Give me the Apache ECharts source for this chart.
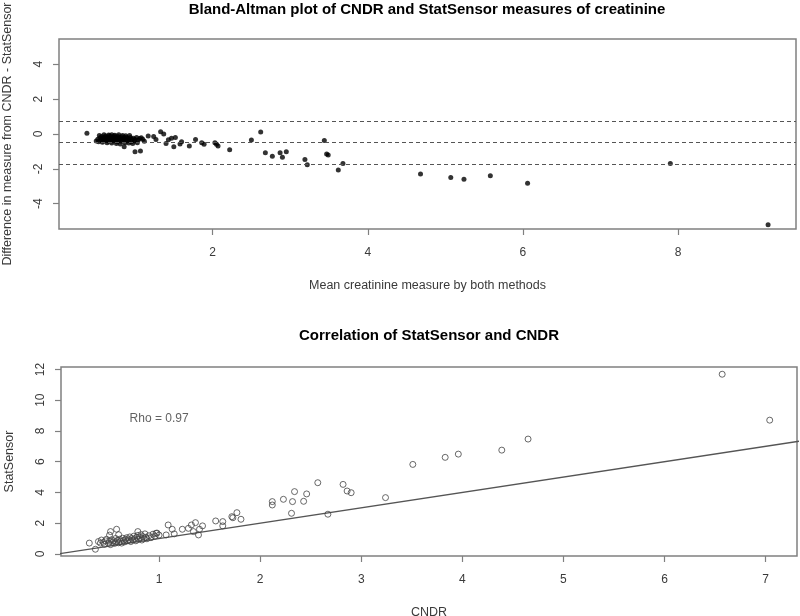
<!DOCTYPE html>
<html><head><meta charset="utf-8">
<script src="https://cdn.jsdelivr.net/npm/echarts@6/dist/echarts.min.js"></script>
<style>html,body{margin:0;padding:0;background:#fff}#c{width:800px;height:616px}</style>
</head><body><div id="c"></div>
<script>
// Bland-Altman: [mean of both methods, CNDR - StatSensor]
const baPoints = [
 [0.38,0.04],
 [0.50,-0.40],[0.52,-0.30],[0.53,-0.45],[0.55,-0.22],[0.56,-0.35],[0.57,-0.15],[0.58,-0.28],[0.59,-0.40],[0.60,-0.20],[0.61,-0.32],
 [0.62,-0.12],[0.62,-0.25],[0.63,-0.38],[0.64,-0.18],[0.65,-0.30],[0.66,-0.42],[0.67,-0.10],[0.67,-0.24],[0.68,-0.35],[0.69,-0.16],
 [0.70,-0.28],[0.71,-0.40],[0.72,-0.20],[0.72,-0.32],[0.73,-0.12],[0.74,-0.25],[0.75,-0.38],[0.75,-0.18],[0.76,-0.30],[0.77,-0.45],
 [0.78,-0.14],[0.78,-0.26],[0.79,-0.36],[0.80,-0.20],[0.81,-0.30],[0.82,-0.42],[0.83,-0.16],[0.84,-0.28],[0.85,-0.36],[0.86,-0.22],
 [0.87,-0.50],[0.88,-0.30],[0.89,-0.18],[0.90,-0.40],[0.91,-0.26],[0.92,-0.34],[0.94,-0.20],[0.95,-0.44],[0.96,-0.30],[0.98,-0.24],
 [0.99,-0.40],[1.00,-0.32],[1.02,-0.20],[1.04,-0.36],[1.06,-0.26],[1.08,-0.22],[1.10,-0.30],[1.12,-0.42],
 [0.54,-0.08],[0.60,-0.05],[0.66,-0.06],[0.70,-0.04],[0.74,-0.07],[0.79,-0.05],[0.84,-0.09],[0.64,-0.50],[0.70,-0.52],
 [0.76,-0.55],[0.81,-0.58],[0.92,-0.52],[0.97,-0.55],[1.03,-0.50],[0.58,-0.48],[0.88,-0.10],[0.93,-0.08],
 [0.86,-0.73],[1.00,-1.02],[1.07,-0.98],
 [1.17,-0.11],[1.24,-0.15],[1.27,-0.31],[1.33,0.13],[1.37,0.00],[1.40,-0.54],[1.43,-0.33],[1.47,-0.24],[1.50,-0.73],[1.52,-0.20],
 [1.58,-0.57],[1.60,-0.44],[1.70,-0.69],[1.78,-0.31],[1.86,-0.50],[1.89,-0.59],[2.03,-0.50],[2.05,-0.59],[2.07,-0.69],[2.22,-0.90],
 [2.50,-0.34],[2.62,0.11],[2.68,-1.07],[2.77,-1.28],[2.87,-1.07],[2.90,-1.34],[2.95,-1.02],[3.19,-1.47],[3.22,-1.76],[3.44,-0.38],
 [3.47,-1.15],[3.49,-1.20],[3.62,-2.07],[3.68,-1.69],[4.68,-2.30],[5.07,-2.49],[5.24,-2.59],[5.58,-2.40],[6.06,-2.83],[7.90,-1.69],
 [9.16,-5.21]
];
// mean difference and limits of agreement
const baLimits = [0.76, -0.50, -1.75];

// Correlation: [CNDR, StatSensor]
const corPoints = [
 [0.31,0.70],[0.37,0.30],
 [0.40,0.80],[0.42,0.70],[0.43,0.90],[0.45,0.75],[0.46,0.62],[0.47,0.85],[0.48,0.95],[0.50,0.70],[0.51,0.82],[0.52,0.60],
 [0.53,0.92],[0.54,0.75],[0.55,0.85],[0.56,0.68],[0.57,1.00],[0.58,0.78],[0.59,0.88],[0.60,0.72],[0.61,0.95],[0.62,0.82],
 [0.63,0.70],[0.64,1.02],[0.65,0.88],[0.66,0.78],[0.67,0.95],[0.68,1.05],[0.69,0.85],[0.70,0.92],[0.71,1.10],[0.72,0.80],
 [0.73,1.00],[0.74,0.90],[0.75,1.15],[0.76,0.98],[0.77,0.85],[0.78,1.08],[0.79,1.20],[0.80,0.95],[0.81,1.05],[0.82,1.25],
 [0.83,0.90],[0.84,1.12],[0.85,1.00],[0.86,1.30],[0.87,1.08],[0.88,0.98],[0.90,1.18],[0.92,1.05],[0.94,1.28],[0.96,1.15],
 [0.98,1.35],[1.00,1.22],
 [0.52,1.45],[0.58,1.60],[0.51,1.22],[0.60,1.25],[0.79,1.45],[0.97,1.34],
 [1.07,1.23],[1.09,1.88],[1.13,1.60],[1.15,1.30],[1.23,1.60],[1.29,1.66],[1.32,1.88],[1.34,1.45],[1.36,2.03],[1.39,1.23],
 [1.40,1.60],[1.43,1.82],[1.56,2.14],[1.63,2.10],[1.63,1.82],[1.72,2.42],[1.73,2.35],[1.77,2.68],[1.81,2.25],[2.12,3.40],
 [2.12,3.18],[2.23,3.55],[2.31,2.64],[2.32,3.40],[2.34,4.05],[2.43,3.42],[2.46,3.90],[2.57,4.63],[2.67,2.58],[2.82,4.52],
 [2.86,4.09],[2.90,3.98],[3.24,3.66],[3.51,5.82],[3.83,6.28],[3.96,6.49],[4.39,6.75],[4.65,7.47],[6.57,11.69],[7.04,8.70]
];
// identity line y = x
const identityLine = [[0,0],[8,8]];
const rhoLabel = {text: 'Rho = 0.97', at: [1.0, 8.8]};

const baXTicks = [2,4,6,8];
const baYTicks = [-4,-2,0,2,4];
const corXTicks = [1,2,3,4,5,6,7];
const corYTicks = [0,2,4,6,8,10,12];

const FONT = '"Liberation Sans", Arial, sans-serif';
const boxColor = '#808080';
const textColor = '#3a3a3a';

function xAxis(gridIndex, min, max, ticks, name) {
  return {
    type: 'value', gridIndex, min, max, position: 'bottom',
    name, nameLocation: 'middle', nameGap: 50,
    nameTextStyle: {fontFamily: FONT, fontSize: 12.5, color: textColor},
    axisLine: {show: false, onZero: false},
    axisTick: {show: true, length: 6, customValues: ticks, lineStyle: {color: boxColor, width: 1.2}},
    axisLabel: {customValues: ticks, margin: 18, fontFamily: FONT, fontSize: 12, color: textColor},
    splitLine: {show: false}
  };
}
function yAxis(gridIndex, min, max, ticks, name, gap) {
  return {
    type: 'value', gridIndex, min, max, position: 'left',
    name, nameLocation: 'middle', nameGap: gap, nameRotate: 90,
    nameTextStyle: {fontFamily: FONT, fontSize: 12.5, color: textColor},
    axisLine: {show: false, onZero: false},
    axisTick: {show: true, length: 6, customValues: ticks, lineStyle: {color: boxColor, width: 1.2}},
    axisLabel: {customValues: ticks, rotate: 90, margin: 14, fontFamily: FONT, fontSize: 12, color: textColor},
    splitLine: {show: false}
  };
}

const chart = echarts.init(document.getElementById('c'), null, {renderer: 'canvas'});
chart.setOption({
  animation: false,
  backgroundColor: '#fff',
  title: [
    {text: 'Bland-Altman plot of CNDR and StatSensor measures of creatinine', left: 427, top: 2, textAlign: 'center', padding: 0,
     textStyle: {fontFamily: FONT, fontSize: 15, fontWeight: 'bold', color: '#000'}},
    {text: 'Correlation of StatSensor and CNDR', left: 429, top: 328, textAlign: 'center', padding: 0,
     textStyle: {fontFamily: FONT, fontSize: 15, fontWeight: 'bold', color: '#000'}}
  ],
  grid: [
    {left: 59, top: 39, width: 737, height: 190, show: true, borderColor: boxColor, borderWidth: 1.5, backgroundColor: 'transparent',
     containLabel: false, outerBoundsMode: 'none'},
    {left: 61, top: 367, width: 736, height: 189, show: true, borderColor: boxColor, borderWidth: 1.5, backgroundColor: 'transparent',
     containLabel: false, outerBoundsMode: 'none'}
  ],
  xAxis: [
    xAxis(0, 0.02, 9.52, baXTicks, 'Mean creatinine measure by both methods'),
    xAxis(1, 0.03, 7.31, corXTicks, 'CNDR')
  ],
  yAxis: [
    yAxis(0, -5.45, 5.45, baYTicks, 'Difference in measure from CNDR - StatSensor', 45),
    yAxis(1, -0.14, 12.16, corYTicks, 'StatSensor', 45)
  ],
  series: [
    {
      type: 'scatter', xAxisIndex: 0, yAxisIndex: 0, data: baPoints,
      symbol: 'circle', symbolSize: 5, itemStyle: {color: '#000'}, silent: true,
      markLine: {
        silent: true, symbol: 'none', label: {show: false},
        lineStyle: {color: '#555', width: 1, type: [4, 3]},
        data: baLimits.map(v => ({yAxis: v}))
      }
    },
    {
      type: 'line', xAxisIndex: 1, yAxisIndex: 1, data: identityLine, clip: true,
      symbol: 'none', lineStyle: {color: '#555', width: 1.3}, silent: true, z: 1
    },
    {
      type: 'scatter', xAxisIndex: 1, yAxisIndex: 1, data: corPoints,
      symbol: 'circle', symbolSize: 6, silent: true,
      itemStyle: {color: 'rgba(255,255,255,0)', borderColor: '#444', borderWidth: 1}
    },
    {
      type: 'scatter', xAxisIndex: 1, yAxisIndex: 1, data: [rhoLabel.at], symbolSize: 0, silent: true,
      label: {show: true, position: 'inside', formatter: rhoLabel.text, fontFamily: FONT, fontSize: 12, color: textColor}
    }
  ]
});
</script></body></html>
